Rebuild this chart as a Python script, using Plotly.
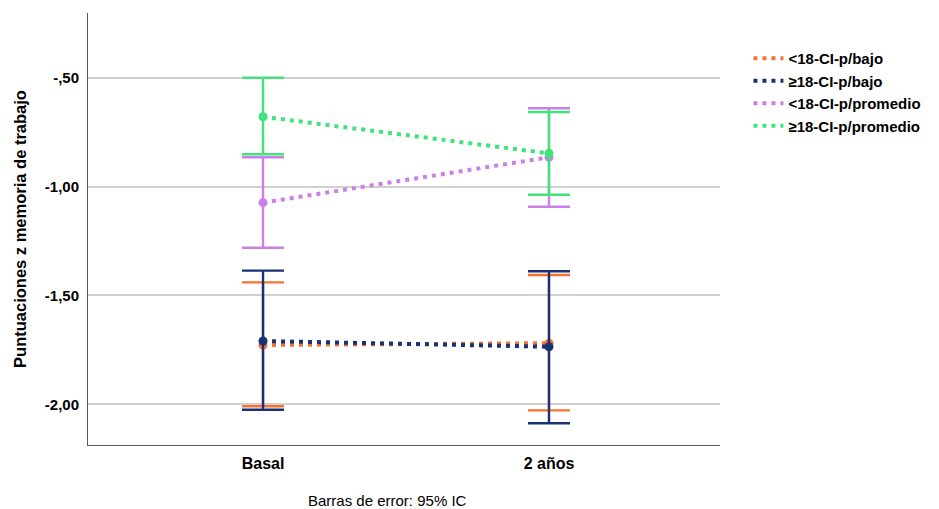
import plotly.graph_objects as go

# Time points and group series (mean z-scores with 95% CI bounds)
timepoints = ["Basal", "2 años"]
groups = ["<18-CI-p/bajo", "≥18-CI-p/bajo", "<18-CI-p/promedio", "≥18-CI-p/promedio"]
colors = ["#F4732E", "#1B3175", "#CC80E6", "#40E27A"]

means = [
    [-1.727, -1.719],
    [-1.709, -1.735],
    [-1.074, -0.866],
    [-0.680, -0.848],
]
ci_upper = [
    [-1.440, -1.406],
    [-1.386, -1.389],
    [-0.866, -0.641],
    [-0.501, -0.658],
]
ci_lower = [
    [-2.008, -2.027],
    [-2.024, -2.086],
    [-1.281, -1.093],
    [-0.852, -1.038],
]

y_ticks = [-0.5, -1.0, -1.5, -2.0]
y_tick_text = ["-,50", "-1,00", "-1,50", "-2,00"]

FONT = "Arial, Liberation Sans, sans-serif"
x_pos = list(range(len(timepoints)))

fig = go.Figure()

for name, col, m, up, lo in zip(groups, colors, means, ci_upper, ci_lower):
    fig.add_trace(go.Scatter(
        x=x_pos, y=m, mode="lines+markers", name=name, showlegend=False,
        line=dict(color=col, width=4, dash="4px,5px"),
        marker=dict(color=col, size=9),
        error_y=dict(type="data", symmetric=False,
                     array=[u - v for u, v in zip(up, m)],
                     arrayminus=[v - l for v, l in zip(m, lo)],
                     color=col, thickness=2.4, width=21),
    ))

# Legend entries (dotted line samples)
for name, col in zip(groups, colors):
    fig.add_trace(go.Scatter(
        x=[None], y=[None], mode="lines", name=name,
        line=dict(color=col, width=4, dash="4px,5px"),
    ))

PLOT_L, PLOT_R, PLOT_T, PLOT_B = 88, 720, 13, 445
W, H = 939, 509

fig.update_layout(
    width=W, height=H,
    margin=dict(l=PLOT_L, r=W - PLOT_R, t=PLOT_T, b=H - PLOT_B,
                autoexpand=False),
    plot_bgcolor="white", paper_bgcolor="white",
    font=dict(family=FONT, size=14, color="black"),
    legend=dict(x=1.045, y=0.933, xanchor="left", yanchor="top",
                font=dict(family=FONT, size=15, color="black", weight="bold"),
                itemwidth=30, tracegroupgap=0, bgcolor="rgba(0,0,0,0)"),
    xaxis=dict(range=[-0.612, 1.598], tickvals=x_pos, ticktext=timepoints,
               showgrid=False, zeroline=False, showline=True,
               linecolor="#5a5a5a", linewidth=1,
               tickfont=dict(family=FONT, size=16, weight="bold"), ticklen=0,
               ticklabelstandoff=4),
    yaxis=dict(range=[-2.186, -0.204], tickvals=y_ticks, ticktext=y_tick_text,
               showgrid=True, gridcolor="#d0d0d0", gridwidth=1.5,
               zeroline=False, showline=True, linecolor="#5a5a5a", linewidth=1,
               tickfont=dict(family=FONT, size=15, weight="bold"), ticklen=0,
               ticklabelstandoff=5,
               title=dict(text="Puntuaciones z memoria de trabajo",
                          font=dict(family=FONT, size=16.5, weight="bold"),
                          standoff=14)),
    annotations=[dict(text="Barras de error: 95% IC",
                      xref="paper", yref="paper",
                      x=(387 - PLOT_L) / (PLOT_R - PLOT_L),
                      y=-(501 - PLOT_B) / (PLOT_B - PLOT_T),
                      xanchor="center", yanchor="middle", showarrow=False,
                      font=dict(family=FONT, size=15, color="black"))],
)

fig.write_html("out.html")
